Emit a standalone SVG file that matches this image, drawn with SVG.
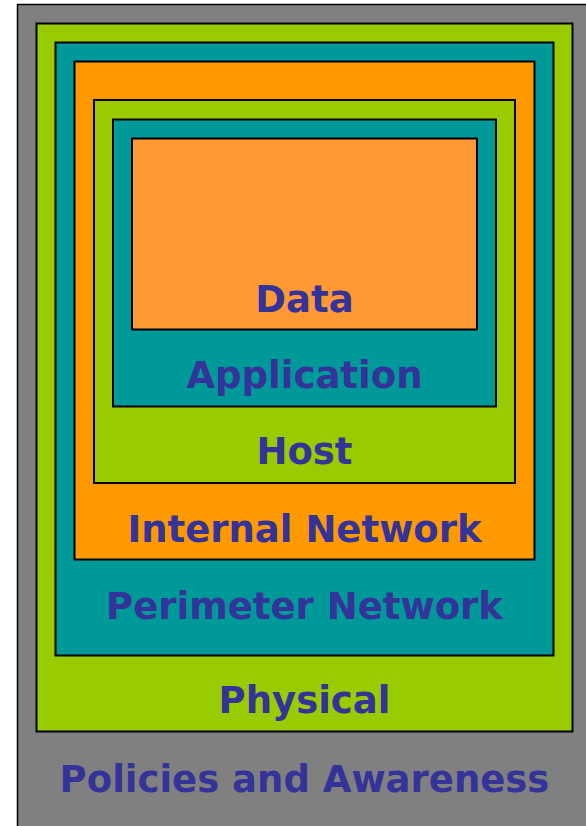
<svg xmlns="http://www.w3.org/2000/svg" width="586" height="826" viewBox="0 0 586 826">
<style>
.box { stroke: #000; stroke-width: 2; }
text { font-family: "DejaVu Sans", Verdana, sans-serif; font-weight: bold; font-size: 37px; fill: #333399; text-anchor: middle; }
</style>
<g id="policies">
<rect class="box" x="17.5" y="4.5" width="580" height="830" fill="#808080" style="stroke-width:1.5"/>
<text x="304.5" y="792">Policies and Awareness</text>
</g>
<g id="physical">
<rect class="box" x="36.5" y="23.5" width="536" height="708" fill="#99CC00"/>
<text x="304.5" y="713">Physical</text>
</g>
<g id="perimeter">
<rect class="box" x="55.5" y="42.5" width="498" height="613" fill="#009999"/>
<text x="304.5" y="619">Perimeter Network</text>
</g>
<g id="internal">
<rect class="box" x="74.5" y="61.5" width="460" height="498" fill="#FF9900"/>
<text x="304.5" y="542">Internal Network</text>
</g>
<g id="host">
<rect class="box" x="94" y="100" width="421" height="383" fill="#99CC00"/>
<text x="304.5" y="464">Host</text>
</g>
<g id="application">
<rect class="box" x="113" y="119.5" width="383" height="287" fill="#009999"/>
<text x="304.5" y="388">Application</text>
</g>
<g id="data">
<rect class="box" x="132" y="138.5" width="345" height="191" fill="#FF9933"/>
<text x="304.5" y="312">Data</text>
</g>
<g id="connectors"></g>
</svg>
